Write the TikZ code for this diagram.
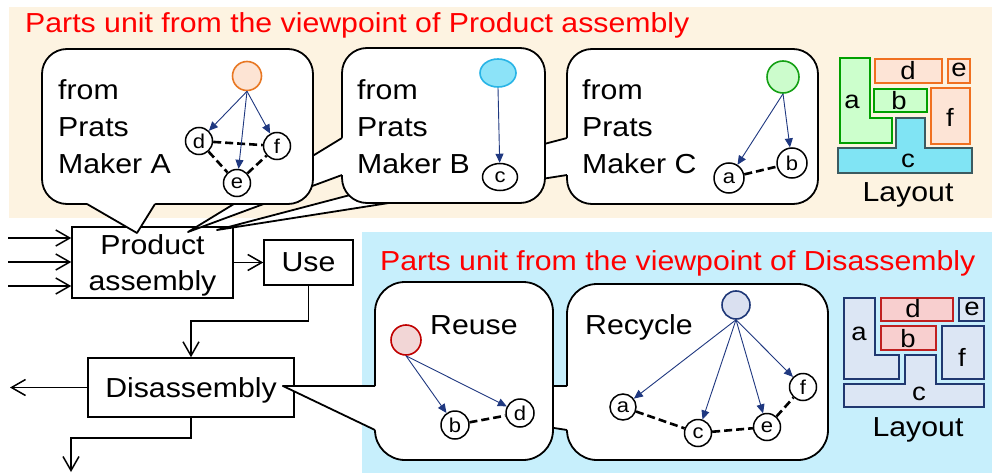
\documentclass[tikz,border=0pt]{standalone}
\usepackage{fontspec}
\setmainfont{Liberation Sans}[FakeStretch=1.1]
\usetikzlibrary{arrows.meta,shapes.geometric}
\definecolor{beige}{RGB}{253,243,225}
\definecolor{skyb}{RGB}{199,239,252}
\definecolor{navy}{RGB}{31,56,128}
\definecolor{hred}{RGB}{255,0,0}
\definecolor{aor}{RGB}{232,119,34}
\definecolor{aorf}{RGB}{253,228,212}
\definecolor{bcy}{RGB}{40,180,230}
\definecolor{bcyf}{RGB}{140,227,248}
\definecolor{cgr}{RGB}{20,160,20}
\definecolor{cgrf}{RGB}{204,252,204}
\definecolor{rred}{RGB}{192,0,0}
\definecolor{rredf}{RGB}{242,214,214}
\definecolor{rcy}{RGB}{31,56,120}
\definecolor{rcyf}{RGB}{218,224,240}
\definecolor{lgr}{RGB}{0,160,0}
\definecolor{lgrf}{RGB}{204,255,204}
\definecolor{lor}{RGB}{240,112,32}
\definecolor{lorf}{RGB}{253,228,214}
\definecolor{lcy}{RGB}{60,90,96}
\definecolor{lcyf}{RGB}{128,228,244}
\definecolor{lbl}{RGB}{32,56,112}
\definecolor{lblf}{RGB}{220,230,244}
\definecolor{lrd}{RGB}{192,32,32}
\definecolor{lrdf}{RGB}{248,207,207}
\begin{document}
\begin{tikzpicture}[x=1pt,y=-1pt,
  bigtext/.style={font=\fontsize{27.5}{36.5}\selectfont},
  hdr/.style={bigtext, text=hred, inner sep=0pt},
  txt/.style={bigtext, inner sep=0pt, anchor=base west},
  box/.style={draw, line width=1.5pt, fill=white, inner sep=0pt, bigtext},
  flow/.style={line width=1.5pt, -{Straight Barb[length=14pt,width=16pt]}},
  callout/.style={fill=white, draw, line width=1.8pt, rounded corners=25pt},
  tailline/.style={draw, line width=1.8pt, line join=round},
  bigc/.style={circle, line width=1.6pt, inner sep=0pt, minimum size=29pt},
  gnode/.style={circle, draw, line width=1.5pt, fill=white, inner sep=0pt, minimum size=27pt, font=\fontsize{20}{20}\selectfont},
  garrow/.style={draw=navy, line width=0.9pt, -{Triangle[length=9pt,width=8pt]}},
  gdash/.style={line width=2.6pt, dash pattern=on 8pt off 4pt},
  lay/.style={inner sep=0pt, font=\fontsize{25}{25}\selectfont},
  laytop/.style={line width=1.3pt},
]
\useasboundingbox (0,0) rectangle (992,473);
\fill[beige] (9,7) rectangle (992,218);
\fill[skyb] (362,232) rectangle (992,473);
\node[hdr, anchor=base west] (h1) at (25,33) {Parts unit from the viewpoint of Product assembly};
\node[hdr, anchor=base west] (h2) at (380,270) {Parts unit from the viewpoint of Disassembly};

% flow
\node[box, minimum width=161pt, minimum height=71pt, align=center, text depth=0pt] (pa) at (152.5,262.5) {Product\\assembly};
\node[box, minimum width=89pt, minimum height=45pt] (use) at (308.5,262.5) {Use};
\node[box, minimum width=206pt, minimum height=59pt, text depth=0pt] (dis) at (191,387.5) {Disassembly};
\coordinate (i1) at (8,238);
\coordinate (i2) at (8,262);
\coordinate (i3) at (8,286);
\draw[flow] (i1) -- (i1 -| pa.west);
\draw[flow] (i2) -- (i2 -| pa.west);
\draw[flow] (i3) -- (i3 -| pa.west);
\draw[flow] (pa.east |- use.west) -- (use.west);
\coordinate (k1) at (0,321);
\draw[flow] (use.south) -- (use.south |- k1) -| (dis.north);
\coordinate (o1) at (10,387.5);
\draw[flow] (dis.west) -- (o1);
\coordinate (k2) at (0,438);
\coordinate (o2) at (71,472);
\draw[flow] (dis.south) -- (dis.south |- k2) -| (o2);

% ---------- callout C
\filldraw[callout] (567,49) rectangle (818,204);
\fill[white] (217,230) -- (567,138) -- (571,138) -- (571,175) -- (567,175) -- cycle;
\draw[tailline] (567,138) -- (217,230) -- (567,175);
\node[txt] (c1) at (582,100) {from};
\node[txt] (c2) at (582,137) {Prats};
\node[txt] (c3) at (582,173) {Maker C};
\node[bigc, draw=cgr, fill=cgrf, minimum size=32pt] (C0) at (783,77) {};
\node[gnode, minimum size=30pt] (Ca) at (729,178) {a};
\node[gnode, minimum size=30pt] (Cb) at (792,163) {b};
\draw[gdash] (Ca) -- (Cb);
\draw[garrow] (C0.south) -- (Ca);
\draw[garrow] (C0.south) -- (Cb);

% ---------- callout B
\filldraw[callout] (342,48) rectangle (545,203);
\fill[white] (188,232) -- (342,138) -- (346,138) -- (346,175) -- (342,175) -- cycle;
\draw[tailline] (342,138) -- (188,232) -- (342,175);
\node[txt] (b1) at (357,100) {from};
\node[txt] (b2) at (357,137) {Prats};
\node[txt] (b3) at (357,173) {Maker B};
\node[bigc, ellipse, draw=bcy, fill=bcyf, minimum width=36pt, minimum height=28pt] (B0) at (498,73) {};
\node[gnode, ellipse, minimum width=35pt, minimum height=27pt] (Bc) at (500,177) {c};
\draw[garrow] (B0.south) -- (Bc);

% ---------- callout A
\filldraw[callout] (42,49) rectangle (313,204);
\fill[white] (137,233) -- (87,204) -- (87,200) -- (155,200) -- (155,204) -- cycle;
\draw[tailline] (87,204) -- (137,233) -- (155,204);
\node[txt] (a1) at (58,100) {from};
\node[txt] (a2) at (58,137) {Prats};
\node[txt] (a3) at (58,173) {Maker A};
\node[bigc, draw=aor, fill=aorf] (A0) at (247,76) {};
\node[gnode] (Ad) at (199,141) {d};
\node[gnode] (Af) at (277,146) {f};
\node[gnode] (Ae) at (237,183) {e};
\draw[gdash] (Ad) -- (Af);
\draw[gdash] (Ad) -- (Ae);
\draw[gdash] (Ae) -- (Af);
\draw[garrow] (A0.south) -- (Ad);
\draw[garrow] (A0.south) -- (Ae);
\draw[garrow] (A0.south) -- (Af);

% ---------- callout Recycle
\filldraw[callout, rounded corners=30pt] (567,284) rectangle (828,460);
\fill[white] (283,386) -- (567,386) -- (571,386) -- (571,430) -- (567,430) -- cycle;
\draw[tailline] (567,386) -- (283,386) -- (567,430);
\node[txt] (rc) at (585,334) {Recycle};
\node[bigc, draw=rcy, fill=rcyf, minimum size=28pt] (R0) at (736,305) {};
\node[gnode, minimum size=26pt] (Ra) at (623,407) {a};
\node[gnode] (Rc) at (698,433) {c};
\node[gnode] (Re) at (767,427) {e};
\node[gnode] (Rf) at (803,387) {f};
\draw[gdash] (Ra) -- (Rc);
\draw[gdash] (Rc) -- (Re);
\draw[gdash] (Re) -- (Rf);
\draw[garrow] (R0.south) -- (Ra);
\draw[garrow] (R0.south) -- (Rc);
\draw[garrow] (R0.south) -- (Re);
\draw[garrow] (R0.south) -- (Rf);

% ---------- callout Reuse
\filldraw[callout, rounded corners=30pt] (375,282) rectangle (553,460);
\fill[white] (283,386) -- (375,386) -- (379,386) -- (379,430) -- (375,430) -- cycle;
\draw[tailline] (375,386) -- (283,386) -- (375,430);
\node[txt] (ru) at (430,334) {Reuse};
\node[bigc, draw=rred, fill=rredf, minimum size=30pt] (U0) at (406,340) {};
\node[gnode, minimum size=28pt] (Ub) at (455,425) {b};
\node[gnode, minimum size=28pt] (Ud) at (520,413) {d};
\draw[gdash] (Ub) -- (Ud);
\draw[garrow] (U0.south) -- (Ub);
\draw[garrow] (U0.south) -- (Ud);

% ---------- layout top
\filldraw[laytop, draw=lgr, fill=lgrf] (840,58) -- (870,58) -- (870,118) -- (892,118) -- (892,143) -- (840,143) -- cycle;
\filldraw[laytop, draw=lor, fill=lorf] (875,59) rectangle (942,83);
\filldraw[laytop, draw=lor, fill=lorf] (948,59) rectangle (970,83);
\filldraw[laytop, draw=lgr, fill=lgrf] (874,89) rectangle (927,112);
\filldraw[laytop, draw=lor, fill=lorf] (931,88) rectangle (970,144);
\filldraw[laytop, draw=lcy, fill=lcyf] (838,148) -- (896,148) -- (896,118) -- (925,118) -- (925,148) -- (972,148) -- (972,173) -- (838,173) -- cycle;
\node[lay] (ta) at (852,102) {a};
\node[lay] (td) at (908,71) {d};
\node[lay] (te) at (959,70) {e};
\node[lay] (tb) at (899,101) {b};
\node[lay] (tf) at (950,117) {f};
\node[lay] (tc) at (908,161) {c};
\node[bigtext, inner sep=0pt] (tl) at (908,195) {Layout};

% ---------- layout bottom
\filldraw[laytop, draw=lbl, fill=lblf] (844,298) -- (875,298) -- (875,355) -- (899,355) -- (899,379) -- (844,379) -- cycle;
\filldraw[laytop, draw=lrd, fill=lrdf] (881,298) rectangle (953,321);
\filldraw[laytop, draw=lbl, fill=lblf] (959,298) rectangle (984,321);
\filldraw[laytop, draw=lrd, fill=lrdf] (881,326) rectangle (936,350);
\filldraw[laytop, draw=lbl, fill=lblf] (942,326) rectangle (984,379);
\filldraw[laytop, draw=lbl, fill=lblf] (844,384) -- (905,384) -- (905,355) -- (936,355) -- (936,384) -- (984,384) -- (984,407) -- (844,407) -- cycle;
\node[lay] (ba) at (859,334) {a};
\node[lay] (bd) at (913,309) {d};
\node[lay] (be) at (972,309) {e};
\node[lay] (bb) at (908,339) {b};
\node[lay] (bf) at (962,357) {f};
\node[lay] (bc) at (919,394) {c};
\node[bigtext, inner sep=0pt] (bl) at (918,430) {Layout};
\end{tikzpicture}
\end{document}
